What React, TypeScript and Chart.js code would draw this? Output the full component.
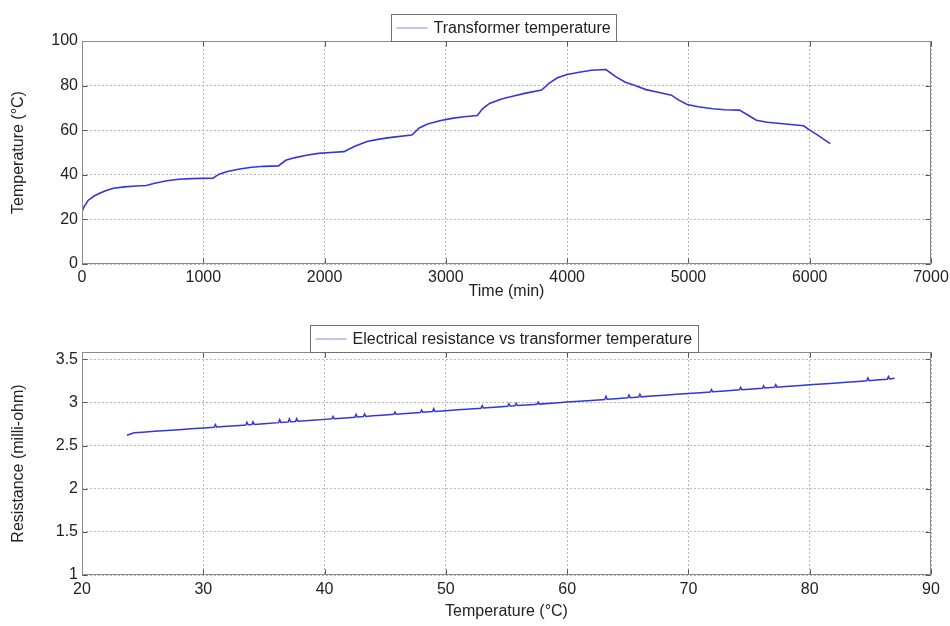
import React, { useEffect, useRef } from "react";
import { Chart, registerables } from "chart.js";

Chart.register(...registerables);

// ---------- Data: top plot (temperature vs time) ----------
const timeMin = [
  0, 20, 50, 100, 150, 200, 260, 350, 450, 530, 600, 700, 800, 900, 1000, 1080,
  1130, 1200, 1300, 1400, 1500, 1620, 1680, 1750, 1850, 1950, 2050, 2160, 2250,
  2350, 2450, 2550, 2720, 2780, 2850, 2950, 3050, 3150, 3260, 3300, 3360, 3460,
  3550, 3650, 3790, 3850, 3920, 4000, 4100, 4200, 4320, 4400, 4480, 4560, 4650,
  4750, 4860, 4920, 4990, 5080, 5200, 5300, 5420, 5500, 5560, 5650, 5800, 5950,
  6000, 6060, 6120, 6170,
];
const transformerTemp = [
  23.5, 26, 28.5, 30.5, 31.8, 33, 34, 34.6, 35, 35.2, 36.2, 37.3, 38, 38.3, 38.4,
  38.5, 40.3, 41.5, 42.6, 43.4, 43.8, 44, 46.5, 47.6, 48.8, 49.6, 50, 50.4, 52.8,
  54.9, 56, 56.8, 57.8, 61, 62.8, 64.2, 65.3, 66, 66.6, 69.5, 72, 74, 75.2, 76.5,
  78, 81, 83.5, 85, 86, 86.9, 87.2, 84, 81.5, 80, 78.2, 77, 75.7, 73.5, 71.5,
  70.5, 69.6, 69.2, 69, 66.5, 64.5, 63.6, 62.8, 62, 60, 58, 55.8, 54,
];
const timeTicks = [0, 1000, 2000, 3000, 4000, 5000, 6000, 7000];
const tempTicks = [0, 20, 40, 60, 80, 100];

// ---------- Data: bottom plot (resistance vs temperature) ----------
const resTemp = [
  23.7, 24.0, 24.3, 25.0, 26.0, 27.0, 28.0, 29.0, 30.0, 30.9, 31.0, 31.1, 32.0,
  33.0, 33.5, 33.6, 33.7, 34.0, 34.1, 34.2, 35.0, 36.2, 36.3, 36.4, 37.0, 37.1,
  37.2, 37.6, 37.7, 37.8, 39.0, 40.0, 40.6, 40.7, 40.8, 42.0, 42.5, 42.6, 42.7,
  43.2, 43.3, 43.4, 44.0, 45.0, 45.7, 45.8, 45.9, 47.0, 47.9, 48.0, 48.1, 48.9,
  49.0, 49.1, 50.0, 51.0, 52.0, 52.9, 53.0, 53.1, 54.0, 55.1, 55.2, 55.3, 55.7,
  55.8, 55.9, 57.0, 57.5, 57.6, 57.7, 59.0, 60.0, 61.0, 62.0, 63.1, 63.2, 63.3,
  64.0, 65.0, 65.1, 65.2, 65.9, 66.0, 66.1, 67.0, 68.0, 69.0, 70.0, 71.0, 71.8,
  71.9, 72.0, 73.0, 74.2, 74.3, 74.4, 75.0, 76.1, 76.2, 76.3, 77.1, 77.2, 77.3,
  78.0, 79.0, 80.0, 81.0, 82.0, 83.0, 84.0, 84.7, 84.8, 84.9, 85.5, 86.4, 86.5,
  86.6, 87.0,
];
const resValue = [
  2.62, 2.635, 2.648, 2.655, 2.665, 2.675, 2.685, 2.695, 2.705, 2.713, 2.745, 2.715,
  2.724, 2.734, 2.739, 2.77, 2.741, 2.744, 2.775, 2.746, 2.754, 2.766, 2.8, 2.768,
  2.774, 2.81, 2.776, 2.78, 2.812, 2.782, 2.794, 2.804, 2.81, 2.838, 2.812, 2.824,
  2.829, 2.862, 2.831, 2.836, 2.866, 2.838, 2.845, 2.855, 2.862, 2.888, 2.864,
  2.875, 2.884, 2.912, 2.886, 2.894, 2.928, 2.896, 2.905, 2.915, 2.925, 2.934,
  2.962, 2.936, 2.945, 2.956, 2.985, 2.958, 2.962, 2.99, 2.964, 2.974, 2.979,
  3.005, 2.981, 2.994, 3.004, 3.014, 3.024, 3.035, 3.072, 3.037, 3.044, 3.054,
  3.085, 3.056, 3.063, 3.095, 3.065, 3.074, 3.084, 3.094, 3.104, 3.114, 3.122,
  3.15, 3.124, 3.134, 3.146, 3.175, 3.148, 3.154, 3.165, 3.192, 3.167, 3.175,
  3.205, 3.177, 3.184, 3.194, 3.204, 3.214, 3.224, 3.234, 3.244, 3.251, 3.285,
  3.253, 3.26, 3.27, 3.3, 3.272, 3.28,
];
const resTempTicks = [20, 30, 40, 50, 60, 70, 80, 90];
const resTicks = [1, 1.5, 2, 2.5, 3, 3.5];

const FONT = "'Liberation Sans', Arial, Helvetica, sans-serif";
const LINE_COLOR = "#3535dc";
const SAMPLE_COLOR = "#9c9ce6";
const TEXT_COLOR = "#222";

const framePlugin = {
  id: "matlabFrame",
  afterDatasetsDraw(chart: any) {
    const { ctx, chartArea: a, scales } = chart;
    const L = Math.round(a.left) + 0.5;
    const R = Math.round(a.right) - 0.5;
    const T = Math.round(a.top) + 0.5;
    const B = Math.round(a.bottom) - 0.5;
    ctx.save();
    // inner tick marks on all four sides
    ctx.strokeStyle = "#555";
    ctx.lineWidth = 1;
    ctx.beginPath();
    for (const t of scales.x.ticks) {
      const px = Math.round(scales.x.getPixelForValue(t.value)) + 0.5;
      ctx.moveTo(px, B);
      ctx.lineTo(px, B - 5);
      ctx.moveTo(px, T);
      ctx.lineTo(px, T + 5);
    }
    for (const t of scales.y.ticks) {
      const py = Math.round(scales.y.getPixelForValue(t.value)) + 0.5;
      ctx.moveTo(L, py);
      ctx.lineTo(L + 5, py);
      ctx.moveTo(R, py);
      ctx.lineTo(R - 5, py);
    }
    ctx.stroke();
    // box
    ctx.strokeStyle = "#8a8a8a";
    ctx.strokeRect(L, T, R - L, B - T);
    // legend box
    const label = chart.data.datasets[0].label;
    ctx.font = `16px ${FONT}`;
    const tw = ctx.measureText(label).width;
    const w = Math.round(tw + 48);
    const h = 27;
    const cx = (a.left + a.right) / 2;
    const x0 = Math.round(cx - w / 2) - 2.5;
    const y0 = Math.round(a.top - h) + 0.5;
    ctx.fillStyle = "#fff";
    ctx.fillRect(x0, y0, w, h);
    ctx.strokeStyle = "#707070";
    ctx.strokeRect(x0, y0, w, h);
    ctx.strokeStyle = SAMPLE_COLOR;
    ctx.lineWidth = 1.2;
    ctx.beginPath();
    ctx.moveTo(x0 + 5, y0 + h / 2);
    ctx.lineTo(x0 + 36, y0 + h / 2);
    ctx.stroke();
    ctx.fillStyle = TEXT_COLOR;
    ctx.textBaseline = "middle";
    ctx.textAlign = "left";
    ctx.fillText(label, x0 + 42, y0 + h / 2 + 1);
    ctx.restore();
  },
};

function axis(opts: {
  min: number;
  max: number;
  ticks: number[];
  title: string;
  isX: boolean;
  size: number;
  tickPad: number;
  titlePad: any;
}) {
  return {
    type: "linear",
    min: opts.min,
    max: opts.max,
    afterBuildTicks: (s: any) => {
      s.ticks = opts.ticks.map((v) => ({ value: v }));
    },
    afterFit: (s: any) => {
      if (opts.isX) {
        s.height = opts.size;
        s.paddingLeft = 0;
        s.paddingRight = 0;
      } else {
        s.width = opts.size;
        s.paddingTop = 0;
        s.paddingBottom = 0;
      }
    },
    grid: { color: "#b8b8b8", lineWidth: 1, drawTicks: false },
    border: { display: false, dash: [2, 2] },
    ticks: {
      padding: opts.tickPad,
      color: TEXT_COLOR,
      font: { size: 16, family: FONT },
      maxRotation: 0,
      autoSkip: false,
      callback: (v: any) => String(v),
    },
    title: {
      display: true,
      text: opts.title,
      color: TEXT_COLOR,
      font: { size: 16, family: FONT, lineHeight: 1 },
      padding: opts.titlePad,
    },
  };
}

function PlotCanvas(props: { height: number; config: any }) {
  const ref = useRef<HTMLCanvasElement | null>(null);
  useEffect(() => {
    if (!ref.current) return;
    const chart = new Chart(ref.current, props.config);
    return () => chart.destroy();
  }, []);
  return (
    <canvas
      ref={ref}
      width={950}
      height={props.height}
      style={{ display: "block", width: 950, height: props.height }}
    />
  );
}

export default function App() {
  const tempConfig = {
    type: "scatter",
    data: {
      datasets: [
        {
          label: "Transformer temperature",
          data: timeMin.map((t, i) => ({ x: t, y: transformerTemp[i] })),
          showLine: true,
          borderColor: LINE_COLOR,
          borderWidth: 1.6,
          pointRadius: 0,
          tension: 0,
        },
      ],
    },
    options: {
      animation: false,
      responsive: false,
      layout: { padding: { top: 41, right: 19, left: 0, bottom: 0 } },
      plugins: { legend: { display: false }, tooltip: { enabled: false } },
      scales: {
        x: axis({
          min: 0,
          max: 7000,
          ticks: timeTicks,
          title: "Time (min)",
          isX: true,
          size: 36,
          tickPad: 4,
          titlePad: { top: 0, bottom: 0 },
        }),
        y: axis({
          min: 0,
          max: 100,
          ticks: tempTicks,
          title: "Temperature (°C)",
          isX: false,
          size: 82,
          tickPad: 4,
          titlePad: { top: 11, bottom: 0 },
        }),
      },
    },
    plugins: [framePlugin],
  };

  const resConfig = {
    type: "scatter",
    data: {
      datasets: [
        {
          label: "Electrical resistance vs transformer temperature",
          data: resTemp.map((t, i) => ({ x: t, y: resValue[i] })),
          showLine: true,
          borderColor: LINE_COLOR,
          borderWidth: 1.5,
          pointRadius: 0,
          tension: 0,
        },
      ],
    },
    options: {
      animation: false,
      responsive: false,
      layout: { padding: { top: 52, right: 19, left: 0, bottom: 0 } },
      plugins: { legend: { display: false }, tooltip: { enabled: false } },
      scales: {
        x: axis({
          min: 20,
          max: 90,
          ticks: resTempTicks,
          title: "Temperature (°C)",
          isX: true,
          size: 51,
          tickPad: 5,
          titlePad: { top: 0, bottom: 6 },
        }),
        y: axis({
          min: 1,
          max: 3.585,
          ticks: resTicks,
          title: "Resistance (milli-ohm)",
          isX: false,
          size: 82,
          tickPad: 4,
          titlePad: { top: 11, bottom: 0 },
        }),
      },
    },
    plugins: [framePlugin],
  };

  return (
    <div
      style={{
        position: "absolute",
        left: 0,
        top: 0,
        width: 950,
        height: 626,
        background: "#fff",
      }}
    >
      <PlotCanvas height={300} config={tempConfig} />
      <PlotCanvas height={326} config={resConfig} />
    </div>
  );
}
